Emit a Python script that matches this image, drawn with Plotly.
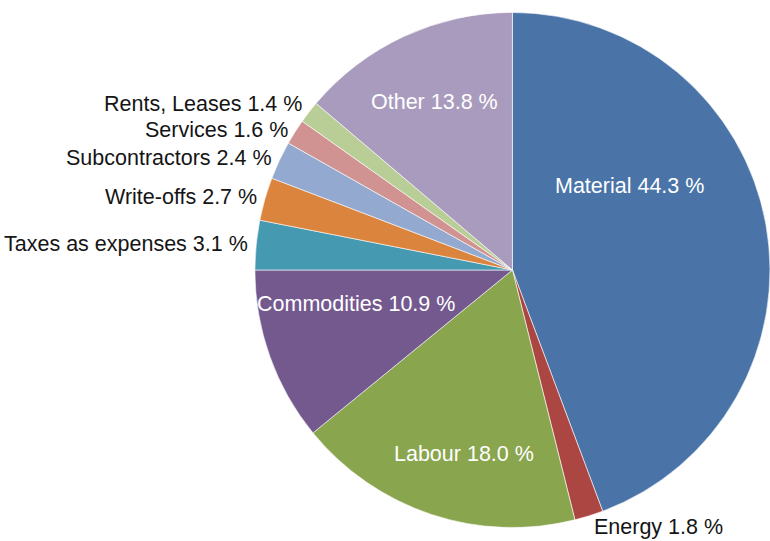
import math
import plotly.graph_objects as go

# Cost structure shares (%), clockwise from 12 o'clock
categories = ["Material", "Energy", "Labour", "Commodities", "Taxes as expenses",
              "Write-offs", "Subcontractors", "Services", "Rents, Leases", "Other"]
shares = [44.3, 1.8, 18.0, 10.9, 3.1, 2.7, 2.4, 1.6, 1.4, 13.8]
colors = ["#4a74a8", "#ac4643", "#89a54e", "#74598f", "#4599b0",
          "#db843d", "#93a9d0", "#d19392", "#b9cd96", "#a99bbd"]

# Big slices get a white label inside the wedge; small slices get a dark label
# just outside the rim.  Each label: (fraction along the wedge's arc,
# fraction of the radius, vertical nudge in px).
inside_label_place = {
    "Material": (0.34, 0.56, 0),
    "Labour": (0.445, 0.74, 0),
    "Commodities": (0.69, 0.62, 0),
    "Other": (0.5, 0.72, 0),
}
outside_label_place = {
    "Energy": (0.5, 1.045, 0),
    "Services": (0.5, 1.025, -1),
    "Rents, Leases": (0.5, 1.025, 4),
}
OUTSIDE_DEFAULT = (0.5, 1.025, 0)

W, H = 770, 541
dom_x = [0.331, 1.0]
dom_y = [0.0249, 0.977]
FONT = "Liberation Sans"
SIZE = 21.5

fig = go.Figure(go.Pie(
    labels=categories,
    values=shares,
    sort=False,
    direction="clockwise",
    rotation=0,
    marker=dict(colors=colors, line=dict(color="#ffffff", width=0.6)),
    textinfo="none",
    hoverinfo="label+value",
    showlegend=False,
    domain=dict(x=dom_x, y=dom_y),
))

# Pie geometry in pixels, as plotly lays it out inside the domain box
box_w = (dom_x[1] - dom_x[0]) * W
box_h = (dom_y[1] - dom_y[0]) * H
cx = (dom_x[0] + dom_x[1]) / 2 * W
cy = (1 - (dom_y[0] + dom_y[1]) / 2) * H
radius = min(box_w, box_h) / 2

total = sum(shares)
start = 0.0
for name, val in zip(categories, shares):
    span = val / total * 360.0
    text = f"{name} {val:.1f} %"
    inside = name in inside_label_place
    if inside:
        frac_a, frac_r, nudge = inside_label_place[name]
        color = "white"
    else:
        frac_a, frac_r, nudge = outside_label_place.get(name, OUTSIDE_DEFAULT)
        color = "#151515"
    ang = math.radians(start + frac_a * span)
    s, c = math.sin(ang), math.cos(ang)
    if inside:
        anchor = "center"
    else:
        anchor = "right" if s < 0 else "left"
    px = cx + frac_r * radius * s
    py = cy - frac_r * radius * c
    fig.add_annotation(
        x=px / W, y=1 - py / H, xref="paper", yref="paper",
        text=text, showarrow=False, yshift=nudge,
        xanchor=anchor, yanchor="middle",
        font=dict(color=color, size=SIZE, family=FONT),
    )
    start += span

fig.update_layout(
    width=W, height=H,
    margin=dict(l=0, r=0, t=0, b=0),
    paper_bgcolor="white",
    font=dict(family=FONT),
)

fig.write_html("out.html")
